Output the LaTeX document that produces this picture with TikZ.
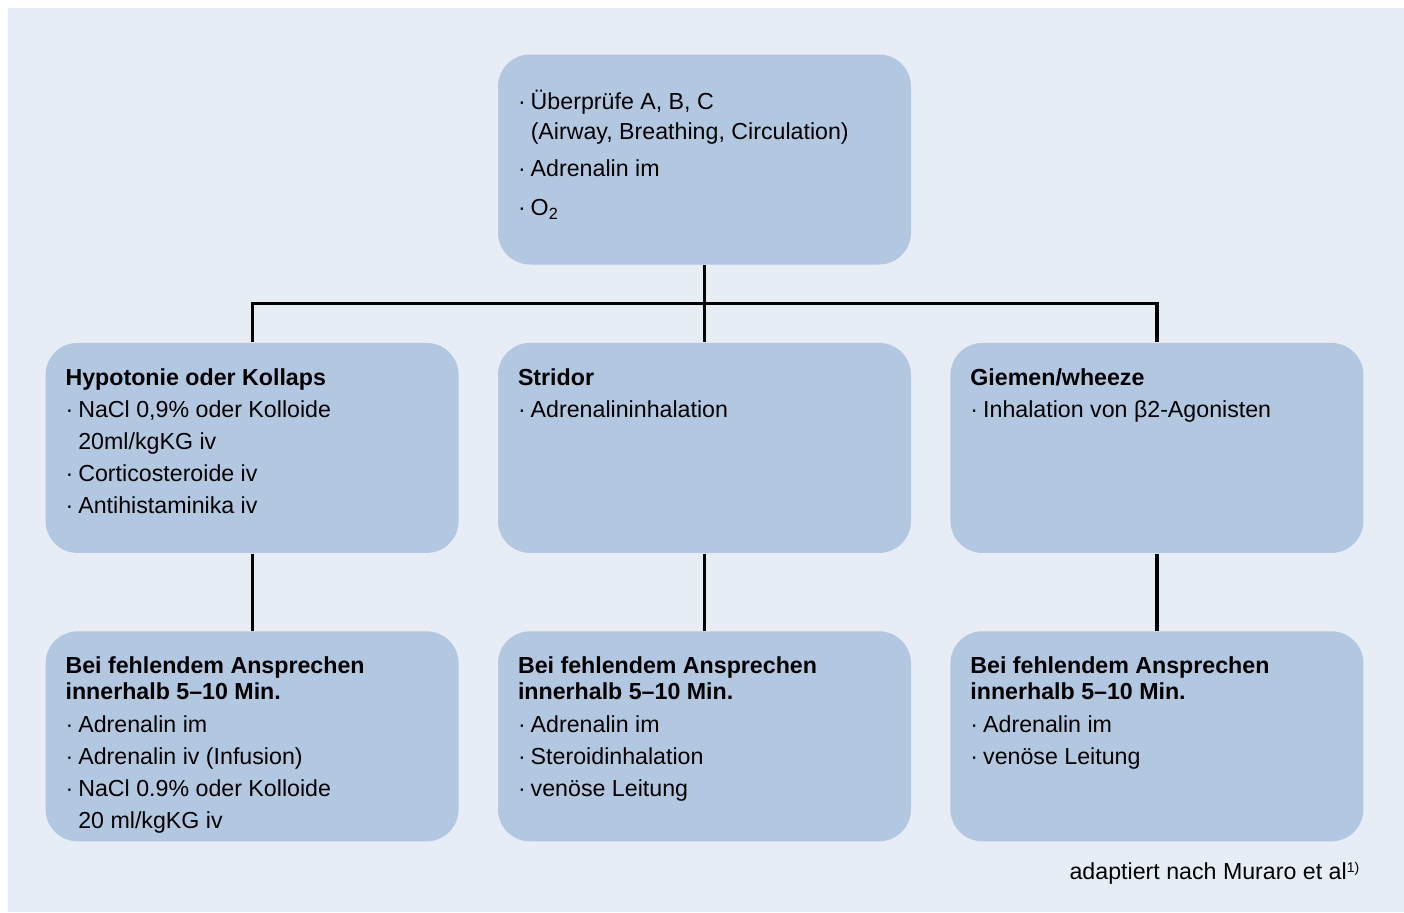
\documentclass[tikz,border=0pt]{standalone}
\usepackage{fontspec}
\setmainfont{Liberation Sans}
\usepackage{tikz}
\usetikzlibrary{positioning}
\definecolor{bgblue}{HTML}{E6EDF5}
\definecolor{boxblue}{HTML}{B2C8E0}
\newcommand{\bul}{\makebox[0.55em][l]{\textperiodcentered}}
\newcommand{\ind}{\hspace*{0.55em}}

\begin{document}
\begin{tikzpicture}[
  box/.style={fill=boxblue, rounded corners=0.32cm, minimum width=4.13cm,
    minimum height=2.10cm, inner sep=0pt},
  txt/.style={inner sep=0pt, align=left, font=\fontsize{6.6pt}{9.1pt}\selectfont},
  link/.style={line width=0.9pt}
]

% Background
\fill[bgblue] (0.08,-0.08) rectangle (14.04,-9.12);
\useasboundingbox (0,0) rectangle (14.04,-9.12);

% Boxes
\node[box] (abc) at (7.045,-1.595) {};
\node[box, below=0.77cm of abc] (stridor) {};
\node[box, left=0.38cm of stridor] (hypo) {};
\node[box, right=0.38cm of stridor] (giemen) {};
\node[box, below=0.77cm of hypo] (hypo2) {};
\node[box, below=0.77cm of stridor] (stridor2) {};
\node[box, below=0.77cm of giemen] (giemen2) {};

% Connectors
\draw[link] (abc.south) -- ++(0,-0.38) coordinate (split);
\draw[link] (hypo.north) |- (split) -| (giemen.north);
\draw[link] (split) -- (stridor.north);
\draw[link] (hypo.south) -- (hypo2.north);
\draw[link] (stridor.south) -- (stridor2.north);
\draw[link] (giemen.south) -- (giemen2.north);

% Texts
\node[txt, below right=0.36cm and 0.20cm of abc.north west] (abctxt) {%
  \bul Überprüfe A, B, C\\[-0.55pt]
  \ind (Airway, Breathing, Circulation)\\[1.4pt]
  \bul Adrenalin im\\[2pt]
  \bul O\textsubscript{2}};

\node[txt, below right=0.26cm and 0.20cm of hypo.north west] (hypotxt) {%
  {\bfseries Hypotonie oder Kollaps}\\
  \bul NaCl 0,9\% oder Kolloide\\
  \ind 20ml/kgKG iv\\
  \bul Corticosteroide iv\\
  \bul Antihistaminika iv};

\node[txt, below right=0.26cm and 0.20cm of stridor.north west] (stridortxt) {%
  {\bfseries Stridor}\\
  \bul Adrenalininhalation};

\node[txt, below right=0.26cm and 0.20cm of giemen.north west] (giementxt) {%
  {\bfseries Giemen/wheeze}\\
  \bul Inhalation von β2-Agonisten};

\node[txt, below right=0.25cm and 0.20cm of hypo2.north west] (hypo2txt) {%
  {\bfseries Bei fehlendem Ansprechen}\\[-1.7pt]
  {\bfseries innerhalb 5–10 Min.}\\[0.3pt]
  \bul Adrenalin im\\
  \bul Adrenalin iv (Infusion)\\
  \bul NaCl 0.9\% oder Kolloide\\
  \ind 20 ml/kgKG iv};

\node[txt, below right=0.25cm and 0.20cm of stridor2.north west] (stridor2txt) {%
  {\bfseries Bei fehlendem Ansprechen}\\[-1.7pt]
  {\bfseries innerhalb 5–10 Min.}\\[0.3pt]
  \bul Adrenalin im\\
  \bul Steroidinhalation\\
  \bul venöse Leitung};

\node[txt, below right=0.25cm and 0.20cm of giemen2.north west] (giemen2txt) {%
  {\bfseries Bei fehlendem Ansprechen}\\[-1.7pt]
  {\bfseries innerhalb 5–10 Min.}\\[0.3pt]
  \bul Adrenalin im\\
  \bul venöse Leitung};

% Source
\node[txt, anchor=base east] (quelle) at (13.60,-8.79)
  {adaptiert nach Muraro et al\raisebox{0.55ex}{\fontsize{4pt}{4pt}\selectfont 1)}};

\end{tikzpicture}
\end{document}
